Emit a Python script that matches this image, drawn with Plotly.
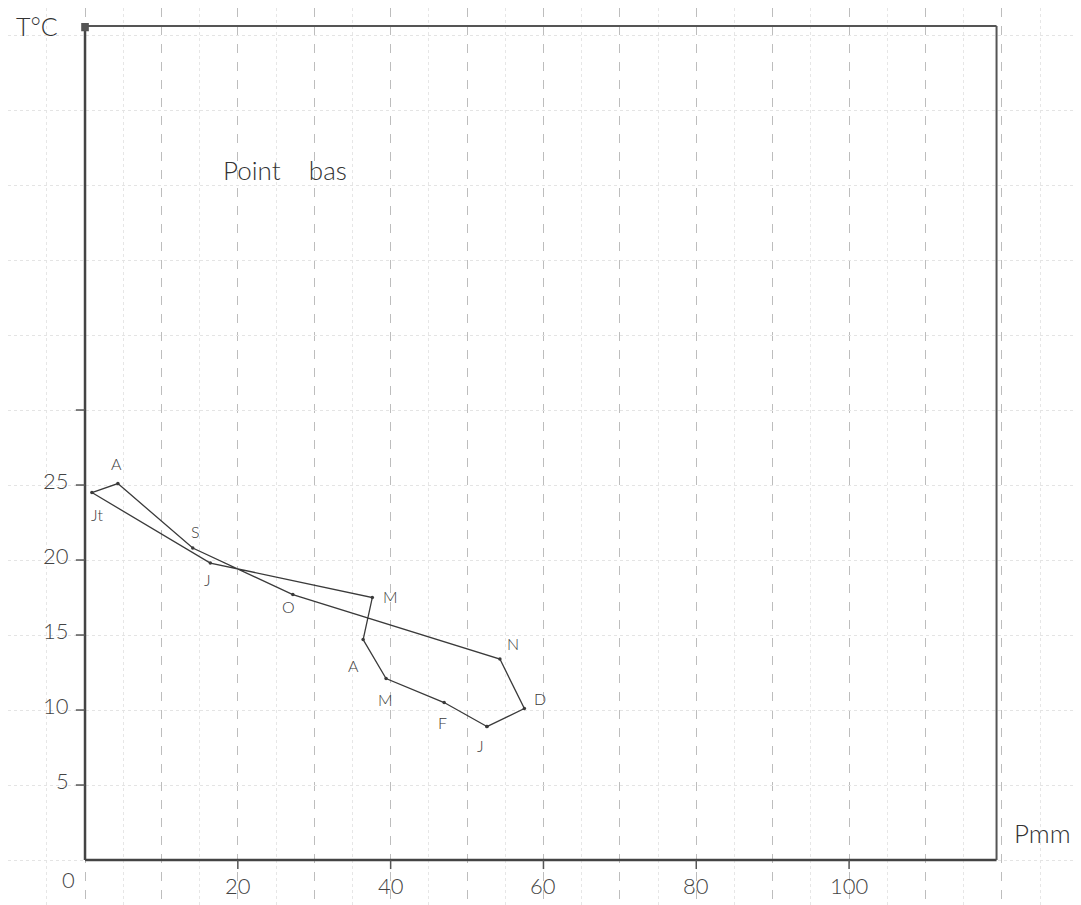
import plotly.graph_objects as go

# ---- data ----
month_labels = ["J", "F", "M", "A", "M", "J", "Jt", "A", "S", "O", "N", "D"]
precip_mm = [52.6, 47.0, 39.4, 36.4, 37.6, 16.4, 0.9, 4.3, 14.1, 27.2, 54.3, 57.5]
temp_c = [8.9, 10.5, 12.1, 14.7, 17.5, 19.8, 24.5, 25.1, 20.8, 17.7, 13.4, 10.1]

x_tick_vals = [20, 40, 60, 80, 100]
x_tick_text = ["20", "40", "60", "80", "100"]
y_tick_vals = [5, 10, 15, 20, 25, 30]
y_tick_text = ["5", "10", "15", "20", "25", ""]

# ---- styling (pixel offsets for the month letters) ----
label_offsets = [(-6, -19), (-2, -20), (-1, -21), (-10, -26), (18, 1), (-3, -16),
                 (5, -22), (-1, 20), (3, 17), (-4, -12), (13, 16), (16, 10)]

INK = "#3a3a3a"
FONT = "Lato"
X_MAX, Y_MAX = 119.3, 55.6

fig = go.Figure()

# closed loop Jan -> Dec -> Jan
fig.add_trace(go.Scatter(
    x=precip_mm + [precip_mm[0]],
    y=temp_c + [temp_c[0]],
    mode="lines+markers",
    line=dict(color=INK, width=1.3),
    marker=dict(size=3.5, color=INK),
    hoverinfo="skip",
    showlegend=False,
))

annotations = []
for lab, px, ty, (dx, dy) in zip(month_labels, precip_mm, temp_c, label_offsets):
    annotations.append(dict(x=px, y=ty, text=lab, showarrow=False, xshift=dx, yshift=dy,
                            font=dict(family=FONT, size=16, color=INK, weight=300)))

for v, t in zip(x_tick_vals, x_tick_text):
    annotations.append(dict(x=v, y=-1.7, text=t, showarrow=False,
                            font=dict(family=FONT, size=22, color="#444", weight=300)))
for v, t in zip(y_tick_vals, y_tick_text):
    if t:
        annotations.append(dict(x=-1.8, y=v + 0.3, text=t, showarrow=False, xanchor="right",
                                font=dict(family=FONT, size=22, color="#444", weight=300)))

annotations += [
    dict(x=-2.2, y=-1.3, text="0", showarrow=False,
         font=dict(family=FONT, size=22, color="#444", weight=300)),
    dict(x=-6.3, y=55.6, text="T°C", showarrow=False,
         font=dict(family=FONT, size=25, color="#333", weight=300)),
    dict(x=121.3, y=1.8, text="Pmm", showarrow=False, xanchor="left",
         font=dict(family=FONT, size=26, color="#333", weight=300)),
    dict(x=17.8, y=46.0, text="Point&nbsp;&nbsp;&nbsp;&nbsp;bas", showarrow=False, xanchor="left",
         font=dict(family=FONT, size=26, color="#333", weight=300)),
]

shapes = [
    # frame
    dict(type="line", x0=0, y0=0, x1=X_MAX, y1=0, line=dict(color="#444", width=2.5)),
    dict(type="line", x0=0, y0=0, x1=0, y1=Y_MAX, line=dict(color="#444", width=2.5)),
    dict(type="line", x0=0, y0=Y_MAX, x1=X_MAX, y1=Y_MAX, line=dict(color="#555", width=2)),
    dict(type="line", x0=X_MAX, y0=0, x1=X_MAX, y1=Y_MAX, line=dict(color="#555", width=2)),
    dict(type="rect", x0=-0.5, y0=Y_MAX - 0.35, x1=0.5, y1=Y_MAX + 0.2,
         fillcolor="#555", line=dict(width=0)),
]
for v in y_tick_vals:
    shapes.append(dict(type="line", x0=-1.2, y0=v, x1=0, y1=v,
                       line=dict(color="#555", width=1.5)))
for v in x_tick_vals:
    shapes.append(dict(type="line", x0=v, y0=0, x1=v, y1=-0.6,
                       line=dict(color="#555", width=1.5)))

# the page has an 8px body margin, so the axis ranges are offset to put
# the origin where the reference has it
fig.update_layout(
    width=1081, height=905,
    margin=dict(l=0, r=0, t=0, b=0),
    paper_bgcolor="white", plot_bgcolor="white",
    xaxis=dict(range=[-10.08, 131.4], dtick=10, tick0=0, showgrid=True,
               gridcolor="#bdbdbd", griddash="dash", gridwidth=1,
               minor=dict(dtick=5, showgrid=True, gridcolor="#e6e6e6", griddash="dot"),
               zeroline=False, showticklabels=False, ticks="", fixedrange=True),
    yaxis=dict(range=[-3.53, 56.8], dtick=5, tick0=0, showgrid=True,
               gridcolor="#e4e4e4", griddash="dot", gridwidth=1,
               zeroline=False, showticklabels=False, ticks="", fixedrange=True),
    annotations=annotations,
    shapes=shapes,
    showlegend=False,
)

fig.write_html("out.html")
